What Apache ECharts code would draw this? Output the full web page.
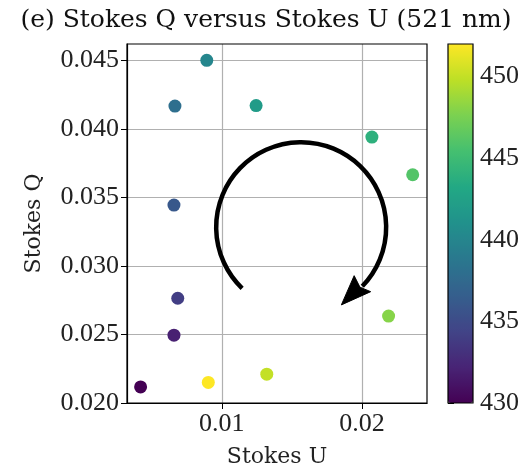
<!DOCTYPE html>
<html>
<head>
<meta charset="utf-8">
<script src="https://cdn.jsdelivr.net/npm/echarts@6/dist/echarts.min.js"></script>
<style>html,body{margin:0;padding:0;background:#fff}#c{width:532px;height:469px}</style>
</head>
<body>
<div id="c"></div>
<script>
// Data (ordered by wavelength, nm)
const wavelengths = [430, 432, 434, 436, 438, 440, 442, 444, 446, 448, 450, 452];
const stokesU = [0.00421, 0.00659, 0.00686, 0.00659, 0.00666, 0.00893, 0.01245, 0.02071, 0.02362, 0.0219, 0.01321, 0.00904];
const stokesQ = [0.02117, 0.02495, 0.02764, 0.03444, 0.04166, 0.04500, 0.04170, 0.03940, 0.03665, 0.02634, 0.02210, 0.02150];
const xTicks = [0.01, 0.02];
const yTicks = [0.020, 0.025, 0.030, 0.035, 0.040, 0.045];
const cbTicks = [430, 435, 440, 445, 450];
const viridis = ['#440154','#482475','#414487','#355f8d','#2a788e','#21918c','#22a884','#44bf70','#7ad151','#bddf26','#fde725'];

const FONT = 'Liberation Serif';
const TFONT = 'DejaVu Serif';
const chart = echarts.init(document.getElementById('c'), null, {renderer: 'canvas'});
const points = wavelengths.map((w, i) => [stokesU[i], stokesQ[i], w]);

const G = {left: 127, top: 44, width: 300, height: 359};
const CB = {left: 448, top: 44, width: 25, height: 359};

chart.setOption({
  animation: false,
  backgroundColor: '#fff',
  title: {
    text: '(e) Stokes Q versus Stokes U (521 nm)',
    left: 'center', top: 3,
    textStyle: {fontFamily: TFONT, fontSize: 25, fontWeight: 'normal', color: '#111'}
  },
  grid: [
    {left: G.left, top: G.top, width: G.width, height: G.height, show: true, borderColor: '#000', borderWidth: 1.2, backgroundColor: 'transparent', z: 3, outerBoundsMode: 'none', containLabel: false},
    {left: CB.left, top: CB.top, width: CB.width, height: CB.height, show: false, outerBoundsMode: 'none', containLabel: false}
  ],
  xAxis: [
    {
      type: 'value', gridIndex: 0, min: 0.00324, max: 0.02464,
      name: 'Stokes U', nameLocation: 'middle', nameGap: 43,
      nameTextStyle: {fontFamily: TFONT, fontSize: 22, color: '#222'},
      axisLine: {show: true, onZero: false, lineStyle: {color: '#000', width: 1.2}},
      axisTick: {show: true, length: 6, inside: false, customValues: xTicks, lineStyle: {color: '#000'}},
      axisLabel: {customValues: xTicks, fontFamily: FONT, fontSize: 26, color: '#222', margin: 8, formatter: v => v.toFixed(2)},
      splitLine: {show: true, lineStyle: {color: '#b0b0b0', width: 1.2}}
    },
    {type: 'value', gridIndex: 1, show: false, min: 0, max: 1}
  ],
  yAxis: [
    {
      type: 'value', gridIndex: 0, min: 0.020, max: 0.04619,
      name: 'Stokes Q', nameLocation: 'middle', nameGap: 82, nameRotate: 90,
      nameTextStyle: {fontFamily: TFONT, fontSize: 22, color: '#222'},
      axisLine: {show: true, onZero: false, lineStyle: {color: '#000', width: 1.2}},
      axisTick: {show: true, length: 6, inside: false, customValues: yTicks, lineStyle: {color: '#000'}},
      axisLabel: {customValues: yTicks, fontFamily: FONT, fontSize: 26, color: '#222', margin: 8, formatter: v => v.toFixed(3)},
      splitLine: {show: true, lineStyle: {color: '#b0b0b0', width: 1.2}}
    },
    {
      type: 'value', gridIndex: 1, min: 430, max: 452, position: 'right',
      axisLine: {show: false},
      axisTick: {show: true, length: 6, customValues: cbTicks, lineStyle: {color: '#000'}},
      axisLabel: {customValues: cbTicks, fontFamily: FONT, fontSize: 26, color: '#222', margin: 7},
      splitLine: {show: false}
    }
  ],
  visualMap: {
    type: 'continuous', dimension: 2, seriesIndex: 0,
    min: 430, max: 452, calculable: false, realtime: false,
    left: CB.left, top: CB.top, itemWidth: CB.width, itemHeight: CB.height,
    padding: 0, text: null, showLabel: false,
    inRange: {color: viridis},
    textStyle: {fontSize: 0}
  },
  series: [{
    type: 'scatter', xAxisIndex: 0, yAxisIndex: 0,
    symbolSize: 13, data: points, z: 5,
    itemStyle: {opacity: 1}
  }]
});

// Curved arrow annotation, anchored in data space
const arrowCenter = [0.015664, 0.032826];
function drawArrow() {
  const c = chart.convertToPixel({gridIndex: 0}, arrowCenter);
  const r = 85;
  const a0 = 134 * Math.PI / 180, a1 = 404 * Math.PI / 180;
  // head defined relative to the arc center
  const head = [[40.2, 77.7], [53, 48.5], [58.8, 60], [69.5, 64.5]].map(p => [c[0] + p[0], c[1] + p[1]]);
  chart.setOption({
    graphic: [
      {type: 'arc', shape: {cx: c[0], cy: c[1], r: r, startAngle: a0, endAngle: a1, clockwise: true},
       style: {stroke: '#000', fill: null, lineWidth: 4.5}, z: 10},
      {type: 'polygon', shape: {points: head}, style: {fill: '#000', stroke: '#000', lineWidth: 1}, z: 10},
      {type: 'rect', shape: {x: CB.left, y: CB.top, width: CB.width, height: CB.height},
       style: {fill: null, stroke: '#000', lineWidth: 1.2}, z: 20}
    ]
  });
}
drawArrow();
</script>
</body>
</html>
